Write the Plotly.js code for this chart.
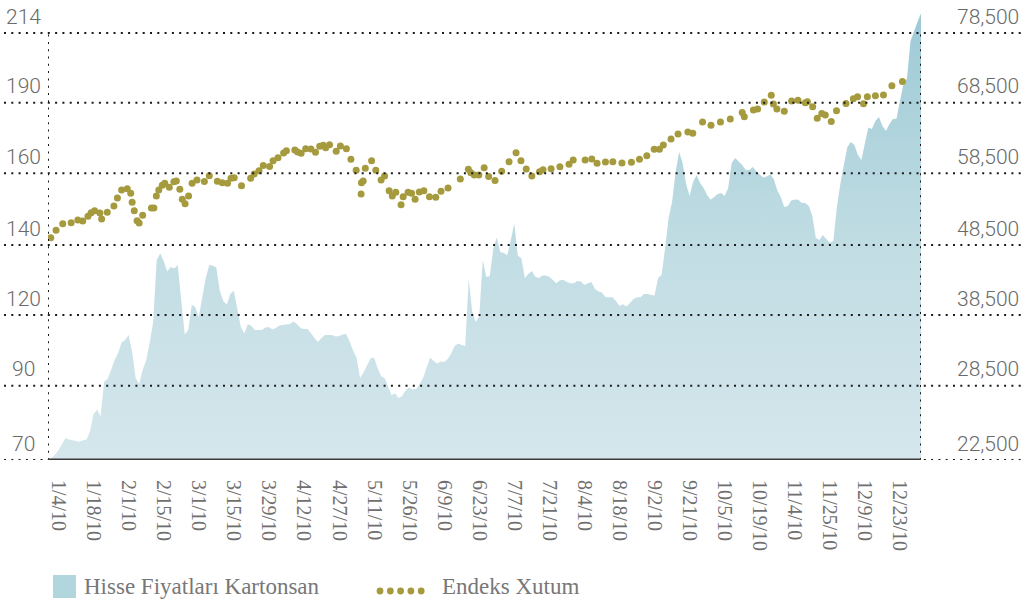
<!DOCTYPE html>
<html>
<head>
<meta charset="utf-8">
<script src="https://cdn.plot.ly/plotly-3.0.1.min.js"></script>
<style>
html,body{margin:0;padding:0;background:#fff;}
#chart{width:1023px;height:599px;}
</style>
</head>
<body>
<div id="chart"></div>
<script>
// ---------- DATA ----------
const dateLabels = ["1/4/10","1/18/10","2/1/10","2/15/10","3/1/10","3/15/10","3/29/10","4/12/10","4/27/10","5/11/10","5/26/10","6/9/10","6/23/10","7/7/10","7/21/10","8/4/10","8/18/10","9/2/10","9/21/10","10/5/10","10/19/10","11/4/10","11/25/10","12/9/10","12/23/10"];
const dateTickDays = [0,10,20,30,40,50,60,70,80,90,100,110,120,130,140,150,160,170,180,190,200,210,220,230,240];

const priceTicks = [70,90,120,140,160,190,214];
const priceLabels = ["70","90","120","140","160","190","214"];
const indexTicks = [22500,28500,38500,48500,58500,68500,78500];
const indexLabels = ["22,500","28,500","38,500","48,500","58,500","68,500","78,500"];

// Hisse Fiyatları Kartonsan – one value per trading day, first day = -3 (before 1/4/10)
const firstDay = -3;
const kartonsanPrice = [
70.0,70.6,71.5,72.6,74.3,75.9,75.5,75.3,75.1,74.9,
75.3,75.5,77.8,82.4,83.5,81.8,91.7,92.8,96.7,100.9,
103.9,108.3,109.4,111.5,104.3,93.3,90.7,96.7,100.9,108.1,
117.0,135.7,137.6,135.4,132.4,133.7,133.3,134.3,124.3,111.7,
113.6,122.9,122.3,119.2,125.1,130.6,134.3,134.1,133.6,126.9,
124.0,122.9,126.0,126.9,121.7,114.9,112.1,116.2,115.3,113.6,
113.6,113.6,114.7,114.9,113.8,114.5,115.5,115.8,116.0,116.2,
117.2,116.2,114.5,114.1,114.1,112.4,110.2,108.5,110.2,111.5,
111.5,111.5,110.9,111.1,111.7,111.9,109.0,104.9,102.0,93.3,
95.6,98.6,101.5,102.0,97.5,94.1,93.3,89.8,87.4,88.0,
86.6,87.2,88.8,89.5,89.0,89.1,90.7,93.3,97.7,102.0,
100.5,99.4,100.3,100.1,101.3,103.7,106.8,107.9,107.3,106.8,
130.3,120.9,117.0,119.6,135.7,130.9,131.1,138.9,142.1,138.0,
137.7,137.1,141.4,146.1,136.9,136.3,130.6,131.7,132.6,130.9,
130.6,131.3,131.3,130.9,130.0,129.1,129.9,130.0,129.4,129.1,
129.1,129.7,129.6,128.6,129.1,129.4,127.4,126.7,126.4,125.1,
125.1,125.1,124.0,122.6,123.1,122.4,123.4,124.6,125.1,125.1,
126.0,126.0,125.7,125.6,130.6,131.4,138.9,147.5,152.0,160.3,
169.1,164.4,157.0,153.7,157.6,159.5,157.3,155.9,153.9,152.6,
153.4,154.2,154.5,153.7,155.9,164.4,166.5,165.0,163.5,161.4,
161.4,162.7,161.0,159.7,158.8,159.1,159.7,158.4,155.3,153.4,
150.6,150.9,152.4,152.7,152.6,151.7,151.7,150.9,148.1,142.0,
141.4,142.8,141.7,140.6,141.1,150.6,157.0,163.5,171.2,173.3,
172.0,167.8,165.7,172.8,179.5,178.8,182.2,183.9,180.1,178.0,
181.0,183.1,183.2,190.6,196.4,198.3,211.2,214.5,217.8,220.8
];

// Endeks Xutum – trading-day position and value of each dot
const xutumDay = [
-2.2,-0.7,1.2,3.6,5.5,6.9,8.4,9.3,10.3,11.8,12.3,13.9,15.8,16.8,18.0,19.6,20.6,21.0,21.6,22.4,
23.0,24.0,26.5,27.2,27.9,28.6,29.6,30.3,31.6,32.9,33.6,34.6,35.3,36.1,37.1,38.1,39.5,41.6,43.0,45.3,
46.7,48.2,49.2,50.1,52.2,54.8,55.8,57.2,58.4,60.2,61.2,62.6,64.2,65.0,67.4,68.2,69.2,70.5,72.0,73.3,
74.5,75.5,76.2,77.3,79.2,80.4,82.1,83.4,84.9,86.3,86.4,86.9,87.5,89.3,90.5,92.0,93.0,94.3,95.2,96.2,
97.7,98.3,99.7,100.7,101.7,102.9,104.2,105.8,107.6,109.1,111.1,114.6,116.9,117.6,118.6,119.9,121.4,122.7,124.5,126.4,
128.5,130.5,131.9,133.4,135.0,137.2,138.2,140.5,143.0,145.6,146.8,150.2,152.1,153.6,156.0,158.1,160.7,163.4,165.7,167.8,
169.9,171.4,172.5,174.7,176.7,179.5,180.9,183.7,186.1,188.8,191.6,195.0,195.6,198.2,199.4,201.3,203.3,203.9,204.9,207.0,
209.1,210.9,213.0,213.6,215.1,216.4,217.7,218.7,220.4,221.9,224.6,226.7,227.9,229.6,230.7,233.0,235.3,237.7,240.7
];
const xutumValue = [
49520,50550,51470,51610,51990,51850,52500,53010,53290,52960,52130,53060,53940,55060,56170,56350,55710,54460,53290,51890,
51570,52640,53660,53660,55340,56170,56830,57110,56550,57330,57430,56270,54880,54260,55340,57110,57570,57360,58150,57400,
57180,57110,57810,57880,56770,57820,58410,58850,59600,59460,60280,60710,61370,61700,61800,61520,61330,61980,61940,61470,
62320,62470,62130,62550,61620,62370,61980,60480,58930,55620,57190,57430,59210,60280,58930,57570,58130,56080,55340,55850,
54120,55240,55850,55710,54880,55890,56080,55240,55150,55990,56450,57710,59070,58590,58260,58260,59290,58040,57480,58780,
60140,61420,60280,59110,58130,58730,59010,59150,59440,59770,60380,60380,60530,59920,60100,60140,59960,60060,60500,60980,
61900,61910,62510,63360,64070,64350,64160,65760,65310,65760,66190,67110,66520,67460,67610,68600,69560,68320,67610,67290,
68740,68840,68500,68640,67930,66290,66970,66760,65840,67350,68380,69060,69350,68340,69360,69510,69610,70940,71540
];

// ---------- SCALE (labelled gridlines are evenly spaced, labels are not) ----------
const gridPos = [0, 74.3, 145, 215, 286.7, 357.3, 427];
function toGrid(v, ticks) {
  let k = 0;
  while (k < ticks.length - 2 && v > ticks[k + 1]) k++;
  return gridPos[k] + (v - ticks[k]) * (gridPos[k + 1] - gridPos[k]) / (ticks[k + 1] - ticks[k]);
}

// ---------- LAYOUT HELPERS ----------
const W = 1023, H = 599, L = 48, R = 102, T = 10, B = 139;
const PW = W - L - R, PH = H - T - B;
const px = x => (x - L) / PW;          // pixel -> paper x
const py = y => (H - B - y) / PH;      // pixel -> paper y

const gridColor = '#1a1a1a';
const dotDash = '2px,5.3px';
const oliveColor = '#a59b3e';
const numFont = {family: 'Roboto, "Liberation Sans", sans-serif', size: 21, color: '#6a6a6a', weight: 300};
const serifFont = {family: '"Liberation Serif", "DejaVu Serif", serif', size: 23, color: '#777'};

const shapes = [];
const annotations = [];
gridPos.forEach((g, k) => {
  shapes.push({type: 'line', layer: 'above', xref: 'paper', yref: 'y',
    x0: px(4), x1: px(1021), y0: g, y1: g,
    line: {color: gridColor, width: 2, dash: dotDash}});
  annotations.push({xref: 'paper', yref: 'y', x: px(23), y: g, xanchor: 'center', yanchor: 'middle',
    yshift: 16.5, text: priceLabels[k], showarrow: false, font: numFont});
  annotations.push({xref: 'paper', yref: 'y', x: px(1021), y: g, xanchor: 'right', yanchor: 'middle',
    yshift: 16.5, text: indexLabels[k], showarrow: false, font: numFont});
});
// vertical dotted frame lines
[-3, 246].forEach(d => shapes.push({type: 'line', layer: 'above', xref: 'x', yref: 'y',
  x0: d, x1: d, y0: 0, y1: gridPos[gridPos.length - 1],
  line: {color: gridColor, width: 2, dash: dotDash}}));
// solid baseline
shapes.push({type: 'line', layer: 'above', xref: 'x', yref: 'y', x0: -3, x1: 246, y0: 0, y1: 0,
  line: {color: '#3a3a3a', width: 3}});

// legend
shapes.push({type: 'rect', xref: 'paper', yref: 'paper', x0: px(53), x1: px(76), y0: py(598), y1: py(575),
  fillcolor: '#b2d6de', line: {width: 0}});
for (let k = 0; k < 5; k++) {
  const cx = 380 + k * 10.3, cy = 591, r = 3.4;
  shapes.push({type: 'circle', xref: 'paper', yref: 'paper', x0: px(cx - r), x1: px(cx + r),
    y0: py(cy + r), y1: py(cy - r), fillcolor: oliveColor, line: {width: 0}});
}
annotations.push({xref: 'paper', yref: 'paper', x: px(82), y: py(586), xanchor: 'left', yanchor: 'middle',
  text: 'Hisse Fiyatları Kartonsan', showarrow: false, font: serifFont});
annotations.push({xref: 'paper', yref: 'paper', x: px(440), y: py(586), xanchor: 'left', yanchor: 'middle',
  text: 'Endeks Xutum', showarrow: false, font: serifFont});

const traces = [
  {
    name: 'Hisse Fiyatları Kartonsan',
    type: 'scatter', mode: 'none',
    x0: firstDay, dx: 1,
    y: kartonsanPrice.map(v => toGrid(v, priceTicks)),
    fill: 'tozeroy',
    fillgradient: {type: 'vertical', start: 0, stop: 447,
      colorscale: [[0, '#d5e7ec'], [0.5, '#c0dce3'], [1, '#9dcad6']]},
    hoverinfo: 'skip'
  },
  {
    name: 'Endeks Xutum',
    type: 'scatter', mode: 'markers',
    x: xutumDay,
    y: xutumValue.map(v => toGrid(v, indexTicks)),
    yaxis: 'y2',
    marker: {color: oliveColor, size: 7, line: {width: 0}},
    hoverinfo: 'skip'
  }
];

const layout = {
  width: W, height: H,
  margin: {l: L, r: R, t: T, b: B},
  paper_bgcolor: '#fff', plot_bgcolor: '#fff',
  showlegend: false,
  xaxis: {
    range: [-3, 246], showgrid: false, zeroline: false, showline: false,
    tickvals: dateTickDays, ticktext: dateLabels, tickangle: 90,
    ticks: 'outside', ticklen: 15, tickcolor: 'rgba(0,0,0,0)',
    tickfont: {family: '"Liberation Serif", "DejaVu Serif", serif', size: 20, color: '#707070'}
  },
  yaxis: {range: [0, PH], visible: false, fixedrange: true},
  yaxis2: {range: [0, PH], overlaying: 'y', side: 'right', visible: false},
  shapes: shapes,
  annotations: annotations
};

Plotly.newPlot('chart', traces, layout, {displayModeBar: false, staticPlot: true});
</script>
</body>
</html>
